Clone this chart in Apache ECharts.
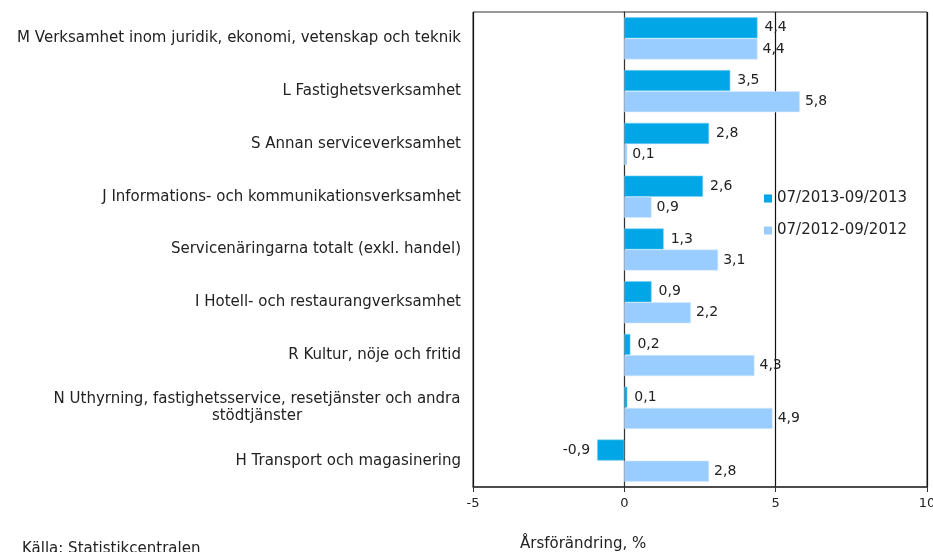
<!DOCTYPE html>
<html>
<head>
<meta charset="utf-8">
<script src="https://cdn.jsdelivr.net/npm/echarts@6/dist/echarts.min.js"></script>
<style>
html,body{margin:0;padding:0;background:#fff;}
#chart{width:933px;height:552px;}
</style>
</head>
<body>
<div id="chart"></div>
<script>
const categories = [
  'M Verksamhet inom juridik, ekonomi, vetenskap och teknik',
  'L Fastighetsverksamhet',
  'S Annan serviceverksamhet',
  'J Informations- och kommunikationsverksamhet',
  'Servicenäringarna totalt (exkl. handel)',
  'I Hotell- och restaurangverksamhet',
  'R Kultur, nöje och fritid',
  'N Uthyrning, fastighetsservice, resetjänster och andra\nstödtjänster',
  'H Transport och magasinering'
];
const series2013 = [4.4, 3.5, 2.8, 2.6, 1.3, 0.9, 0.2, 0.1, -0.9];
const series2012 = [4.4, 5.8, 0.1, 0.9, 3.1, 2.2, 4.3, 4.9, 2.8];
const seriesNames = ['07/2013-09/2013', '07/2012-09/2012'];
const xTicks = { min: -5, max: 10, interval: 5 };
const axisTitle = 'Årsförändring, %';
const sourceText = 'Källa: Statistikcentralen';

const FONT = 'DejaVu Sans';
const CAT_SIZE = 15;
const fmt = v => String(v).replace('.', ',');
function toItems(arr) {
  return arr.map(v => v < 0 ? { value: v, label: { position: 'left' } } : v);
}
const measureCtx = document.createElement('canvas').getContext('2d');
measureCtx.font = CAT_SIZE + 'px "' + FONT + '"';
function multiWidth(v) {
  return Math.ceil(Math.max.apply(null, v.split('\n').map(l => measureCtx.measureText(l).width))) + 1;
}

const chart = echarts.init(document.getElementById('chart'));
chart.setOption({
  animation: false,
  backgroundColor: '#fff',
  textStyle: { fontFamily: FONT },
  grid: { left: 473, right: 6, top: 12, bottom: 65, show: true, borderColor: '#333', borderWidth: 1, outerBoundsMode: 'none', containLabel: false },
  legend: {
    orient: 'vertical', left: 759, top: 186,
    itemWidth: 8, itemHeight: 8, itemGap: 17, icon: 'rect',
    itemStyle: { borderWidth: 0 },
    textStyle: { fontFamily: FONT, fontSize: 15, color: '#222' },
    data: seriesNames
  },
  xAxis: {
    type: 'value', min: xTicks.min, max: xTicks.max, interval: xTicks.interval,
    axisLine: { show: true, onZero: false, lineStyle: { color: '#333', width: 1.5 } },
    axisTick: { show: true, length: 5, lineStyle: { color: '#333' } },
    axisLabel: { fontFamily: FONT, fontSize: 13, color: '#222', margin: 10, formatter: v => fmt(v) },
    splitLine: { show: true, lineStyle: { color: '#111', width: 1.2 } }
  },
  yAxis: {
    type: 'category', inverse: true, data: categories,
    axisLine: { show: true, lineStyle: { color: '#333' } },
    axisTick: { show: false },
    axisLabel: {
      fontFamily: FONT, fontSize: CAT_SIZE, color: '#222', margin: 12, lineHeight: 17,
      formatter: function (v) {
        if (v.indexOf('\n') < 0) return v;
        const w = multiWidth(v);
        return v.split('\n').map(l => '{c' + w + '|' + l + '}').join('\n');
      },
      rich: (function () {
        const r = {};
        categories.filter(c => c.indexOf('\n') >= 0).forEach(c => {
          r['c' + multiWidth(c)] = { width: multiWidth(c), align: 'center', fontFamily: FONT, fontSize: CAT_SIZE, color: '#222', lineHeight: 17 };
        });
        return r;
      })()
    }
  },
  series: [
    {
      name: seriesNames[0], type: 'bar', data: toItems(series2013),
      barGap: '0%', barCategoryGap: '20%',
      itemStyle: { color: '#00A6E6', borderColor: '#7fd0f2', borderWidth: 0.6 },
      label: { show: true, position: 'right', distance: 7, fontFamily: FONT, fontSize: 14, color: '#222', formatter: p => fmt(p.value) }
    },
    {
      name: seriesNames[1], type: 'bar', data: toItems(series2012),
      barGap: '0%', barCategoryGap: '20%',
      itemStyle: { color: '#99CCFF', borderColor: '#d6ebff', borderWidth: 0.6 },
      label: { show: true, position: 'right', distance: 5, fontFamily: FONT, fontSize: 14, color: '#222', formatter: p => fmt(p.value) }
    }
  ],
  graphic: [
    { type: 'text', left: 520, top: 537, style: { text: axisTitle, font: '15px "DejaVu Sans"', fill: '#222' } },
    { type: 'text', left: 22, top: 542, style: { text: sourceText, font: '15px "DejaVu Sans"', fill: '#222' } }
  ]
});
</script>
</body>
</html>
